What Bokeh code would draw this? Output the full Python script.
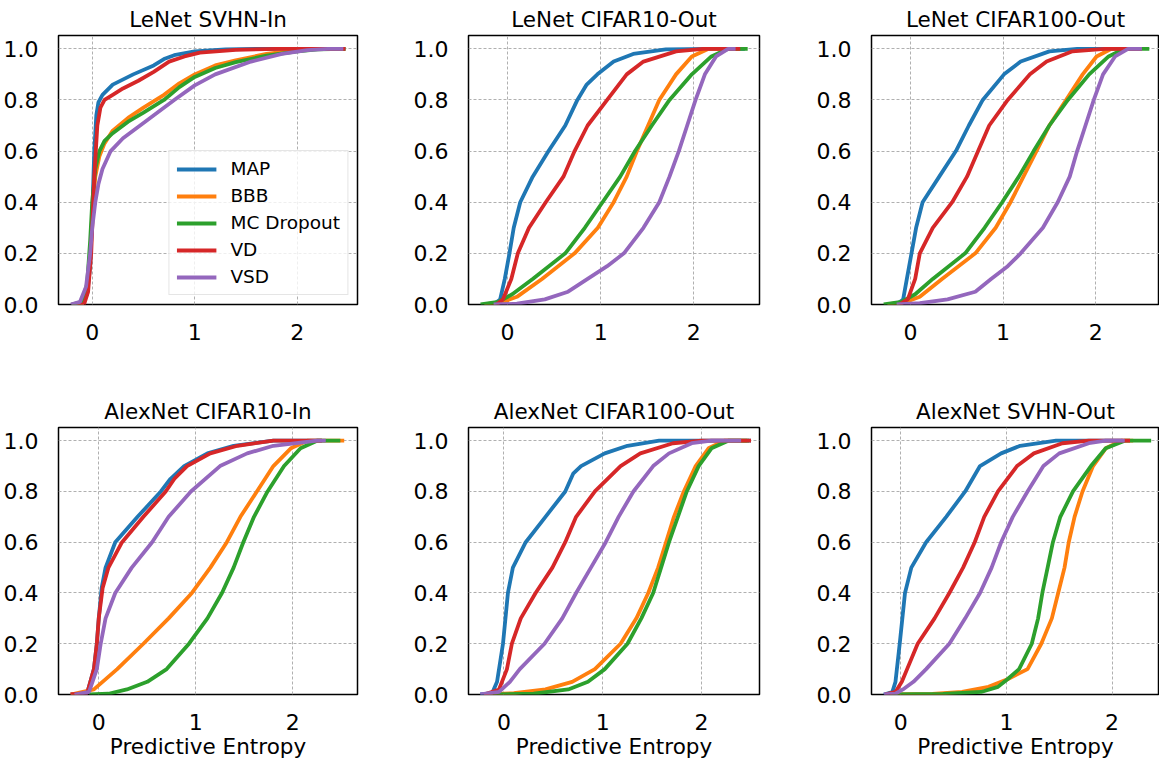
from bokeh.plotting import figure
from bokeh.layouts import column, row
from bokeh.models import Range1d, FixedTicker, PrintfTickFormatter
from bokeh.embed import file_html
from bokeh.resources import INLINE

series_names = ["MAP", "BBB", "MC Dropout", "VD", "VSD"]
series_colors = ["#1f77b4", "#ff7f0e", "#2ca02c", "#d62728", "#9467bd"]
y_ticks = [0.0, 0.2, 0.4, 0.6, 0.8, 1.0]
x_ticks = [0, 1, 2]
x_label = "Predictive Entropy"
titles = ["LeNet SVHN-In", "LeNet CIFAR10-Out", "LeNet CIFAR100-Out",
          "AlexNet CIFAR10-In", "AlexNet CIFAR100-Out", "AlexNet SVHN-Out"]

# ---- Panel 1: LeNet SVHN-In ----
p1_map_x = [-0.2, -0.1, -0.05, -0.02, 0.0, 0.02, 0.04, 0.06, 0.1, 0.2, 0.4, 0.6, 0.7, 0.8, 1.0, 1.3, 1.6, 2.47]
p1_map_y = [0.0, 0.0, 0.04, 0.15, 0.35, 0.6, 0.74, 0.79, 0.82, 0.86, 0.9, 0.935, 0.96, 0.975, 0.99, 0.998, 1.0, 1.0]
p1_bbb_x = [-0.2, -0.1, -0.05, -0.02, 0.0, 0.03, 0.07, 0.12, 0.2, 0.35, 0.5, 0.7, 0.85, 1.0, 1.2, 1.4, 1.7, 2.0, 2.2, 2.47]
p1_bbb_y = [0.0, 0.0, 0.05, 0.2, 0.35, 0.5, 0.58, 0.63, 0.68, 0.73, 0.77, 0.82, 0.865, 0.9, 0.935, 0.955, 0.98, 0.995, 1.0, 1.0]
p1_mcd_x = [-0.2, -0.1, -0.05, -0.02, 0.0, 0.03, 0.07, 0.12, 0.2, 0.35, 0.5, 0.7, 0.85, 1.0, 1.2, 1.4, 1.7, 2.0, 2.2, 2.47]
p1_mcd_y = [0.0, 0.01, 0.08, 0.25, 0.4, 0.53, 0.6, 0.64, 0.67, 0.715, 0.75, 0.8, 0.85, 0.89, 0.925, 0.948, 0.973, 0.99, 0.998, 1.0]
p1_vd_x = [-0.15, -0.08, -0.04, -0.01, 0.02, 0.05, 0.08, 0.12, 0.2, 0.3, 0.45, 0.6, 0.75, 0.9, 1.05, 1.4, 1.8, 2.2, 2.47]
p1_vd_y = [0.0, 0.0, 0.05, 0.2, 0.5, 0.7, 0.77, 0.8, 0.82, 0.845, 0.875, 0.91, 0.95, 0.97, 0.985, 0.996, 1.0, 1.0, 1.0]
p1_vsd_x = [-0.21, -0.12, -0.06, -0.02, 0.0, 0.03, 0.06, 0.1, 0.18, 0.3, 0.5, 0.8, 1.0, 1.2, 1.55, 1.85, 2.1, 2.3, 2.45]
p1_vsd_y = [0.0, 0.01, 0.07, 0.2, 0.3, 0.4, 0.47, 0.53, 0.6, 0.65, 0.71, 0.8, 0.857, 0.9, 0.95, 0.98, 0.995, 1.0, 1.0]

# ---- Panel 2: LeNet CIFAR10-Out ----
p2_map_x = [-0.15, -0.08, -0.03, 0.02, 0.066, 0.136, 0.27, 0.44, 0.62, 0.75, 0.85, 0.965, 1.14, 1.35, 1.7, 2.2, 2.55]
p2_map_y = [0.0, 0.02, 0.1, 0.2, 0.3, 0.4, 0.5, 0.6, 0.7, 0.8, 0.86, 0.9, 0.95, 0.98, 0.998, 1.0, 1.0]
p2_bbb_x = [-0.25, -0.05, 0.1, 0.37, 0.72, 0.97, 1.14, 1.28, 1.39, 1.51, 1.63, 1.81, 1.98, 2.16, 2.5]
p2_bbb_y = [0.0, 0.01, 0.03, 0.1, 0.2, 0.3, 0.4, 0.5, 0.6, 0.7, 0.8, 0.9, 0.97, 1.0, 1.0]
p2_mcd_x = [-0.29, -0.1, 0.05, 0.27, 0.62, 0.83, 1.02, 1.21, 1.37, 1.55, 1.74, 1.98, 2.19, 2.37, 2.58]
p2_mcd_y = [0.0, 0.01, 0.04, 0.1, 0.2, 0.3, 0.4, 0.5, 0.6, 0.7, 0.8, 0.9, 0.97, 1.0, 1.0]
p2_vd_x = [-0.12, -0.05, 0.04, 0.11, 0.23, 0.41, 0.6, 0.72, 0.86, 1.07, 1.28, 1.46, 1.81, 2.1, 2.5]
p2_vd_y = [0.0, 0.02, 0.1, 0.2, 0.3, 0.4, 0.5, 0.6, 0.7, 0.8, 0.9, 0.95, 0.99, 1.0, 1.0]
p2_vsd_x = [-0.15, 0.1, 0.4, 0.65, 0.86, 1.07, 1.25, 1.46, 1.63, 1.74, 1.84, 1.93, 2.02, 2.12, 2.24, 2.37, 2.45]
p2_vsd_y = [0.0, 0.003, 0.02, 0.05, 0.1, 0.15, 0.2, 0.3, 0.4, 0.5, 0.6, 0.7, 0.8, 0.9, 0.97, 1.0, 1.0]

# ---- Panel 3: LeNet CIFAR100-Out ----
p3_map_x = [-0.15, -0.08, -0.04, 0.01, 0.06, 0.13, 0.31, 0.49, 0.63, 0.78, 1.01, 1.19, 1.5, 1.8, 2.5]
p3_map_y = [0.0, 0.02, 0.1, 0.2, 0.3, 0.4, 0.5, 0.6, 0.7, 0.8, 0.9, 0.95, 0.99, 1.0, 1.0]
p3_bbb_x = [-0.25, -0.05, 0.1, 0.34, 0.7, 0.92, 1.08, 1.22, 1.36, 1.5, 1.68, 1.86, 2.01, 2.17, 2.5]
p3_bbb_y = [0.0, 0.01, 0.03, 0.1, 0.2, 0.3, 0.4, 0.5, 0.6, 0.7, 0.8, 0.9, 0.97, 1.0, 1.0]
p3_mcd_x = [-0.29, -0.1, 0.05, 0.24, 0.59, 0.8, 0.99, 1.17, 1.33, 1.5, 1.7, 1.93, 2.14, 2.31, 2.58]
p3_mcd_y = [0.0, 0.01, 0.04, 0.1, 0.2, 0.3, 0.4, 0.5, 0.6, 0.7, 0.8, 0.9, 0.97, 1.0, 1.0]
p3_vd_x = [-0.12, -0.03, 0.05, 0.1, 0.24, 0.45, 0.61, 0.73, 0.85, 1.05, 1.29, 1.47, 1.75, 2.1, 2.5]
p3_vd_y = [0.0, 0.02, 0.1, 0.2, 0.3, 0.4, 0.5, 0.6, 0.7, 0.8, 0.9, 0.95, 0.99, 1.0, 1.0]
p3_vsd_x = [-0.15, 0.1, 0.4, 0.7, 0.87, 1.05, 1.19, 1.43, 1.59, 1.72, 1.8, 1.89, 1.98, 2.08, 2.21, 2.35, 2.5]
p3_vsd_y = [0.0, 0.005, 0.02, 0.05, 0.1, 0.15, 0.2, 0.3, 0.4, 0.5, 0.6, 0.7, 0.8, 0.9, 0.97, 1.0, 1.0]

# ---- Panel 4: AlexNet CIFAR10-In ----
p4_map_x = [-0.29, -0.12, -0.05, -0.02, 0.0, 0.03, 0.07, 0.17, 0.4, 0.64, 0.74, 0.88, 1.12, 1.39, 1.8, 2.3]
p4_map_y = [0.0, 0.005, 0.1, 0.2, 0.3, 0.42, 0.5, 0.6, 0.7, 0.8, 0.85, 0.9, 0.95, 0.98, 1.0, 1.0]
p4_bbb_x = [-0.29, -0.05, 0.19, 0.46, 0.72, 0.96, 1.15, 1.32, 1.46, 1.63, 1.8, 1.98, 2.15, 2.53]
p4_bbb_y = [0.0, 0.02, 0.1, 0.2, 0.3, 0.4, 0.5, 0.6, 0.7, 0.8, 0.9, 0.97, 1.0, 1.0]
p4_mcd_x = [-0.1, 0.1, 0.29, 0.5, 0.7, 0.93, 1.12, 1.27, 1.39, 1.49, 1.6, 1.74, 1.91, 2.08, 2.25, 2.49]
p4_mcd_y = [0.0, 0.003, 0.02, 0.05, 0.1, 0.2, 0.3, 0.4, 0.5, 0.6, 0.7, 0.8, 0.9, 0.97, 1.0, 1.0]
p4_vd_x = [-0.29, -0.12, -0.05, -0.02, 0.0, 0.04, 0.1, 0.24, 0.46, 0.69, 0.78, 0.91, 1.15, 1.43, 1.8, 2.3]
p4_vd_y = [0.0, 0.005, 0.1, 0.2, 0.3, 0.42, 0.5, 0.6, 0.7, 0.8, 0.85, 0.9, 0.95, 0.98, 1.0, 1.0]
p4_vsd_x = [-0.25, -0.1, -0.02, 0.02, 0.07, 0.17, 0.34, 0.55, 0.72, 0.95, 1.25, 1.53, 1.8, 2.25, 2.34]
p4_vsd_y = [0.0, 0.01, 0.1, 0.2, 0.3, 0.4, 0.5, 0.6, 0.7, 0.8, 0.9, 0.95, 0.98, 1.0, 1.0]

# ---- Panel 5: AlexNet CIFAR100-Out ----
p5_map_x = [-0.24, -0.12, -0.07, -0.01, 0.04, 0.09, 0.22, 0.42, 0.62, 0.7, 0.78, 1.02, 1.25, 1.57, 2.5]
p5_map_y = [0.0, 0.005, 0.05, 0.2, 0.4, 0.5, 0.6, 0.7, 0.8, 0.87, 0.9, 0.95, 0.98, 1.0, 1.0]
p5_bbb_x = [-0.2, 0.1, 0.42, 0.69, 0.92, 1.18, 1.34, 1.46, 1.56, 1.64, 1.72, 1.82, 1.94, 2.07, 2.23, 2.46]
p5_bbb_y = [0.0, 0.005, 0.02, 0.05, 0.1, 0.2, 0.3, 0.4, 0.5, 0.6, 0.7, 0.8, 0.9, 0.97, 1.0, 1.0]
p5_mcd_x = [-0.1, 0.3, 0.65, 0.85, 1.02, 1.25, 1.39, 1.51, 1.59, 1.67, 1.76, 1.85, 1.97, 2.1, 2.27, 2.48]
p5_mcd_y = [0.0, 0.003, 0.02, 0.05, 0.1, 0.2, 0.3, 0.4, 0.5, 0.6, 0.7, 0.8, 0.9, 0.97, 1.0, 1.0]
p5_vd_x = [-0.2, -0.05, 0.03, 0.08, 0.17, 0.32, 0.49, 0.62, 0.73, 0.92, 1.18, 1.38, 1.71, 2.0, 2.5]
p5_vd_y = [0.0, 0.02, 0.1, 0.2, 0.3, 0.4, 0.5, 0.6, 0.7, 0.8, 0.9, 0.95, 0.99, 1.0, 1.0]
p5_vsd_x = [-0.24, -0.05, 0.06, 0.16, 0.41, 0.59, 0.73, 0.88, 1.03, 1.16, 1.31, 1.51, 1.67, 1.9, 2.1, 2.4]
p5_vsd_y = [0.0, 0.01, 0.05, 0.1, 0.2, 0.3, 0.4, 0.5, 0.6, 0.7, 0.8, 0.9, 0.95, 0.99, 1.0, 1.0]

# ---- Panel 6: AlexNet SVHN-Out ----
p6_map_x = [-0.16, -0.08, -0.05, -0.01, 0.04, 0.1, 0.24, 0.43, 0.61, 0.75, 0.95, 1.13, 1.47, 2.1]
p6_map_y = [0.0, 0.01, 0.05, 0.2, 0.4, 0.5, 0.6, 0.7, 0.8, 0.9, 0.95, 0.98, 1.0, 1.0]
p6_bbb_x = [-0.1, 0.3, 0.58, 0.83, 1.01, 1.2, 1.33, 1.43, 1.49, 1.55, 1.59, 1.645, 1.72, 1.82, 1.94, 2.09, 2.2]
p6_bbb_y = [0.0, 0.002, 0.01, 0.03, 0.06, 0.1, 0.2, 0.3, 0.4, 0.5, 0.6, 0.7, 0.8, 0.9, 0.97, 1.0, 1.0]
p6_mcd_x = [-0.1, 0.4, 0.76, 0.92, 1.01, 1.12, 1.24, 1.3, 1.34, 1.39, 1.44, 1.51, 1.63, 1.8, 1.94, 2.12, 2.37]
p6_mcd_y = [0.0, 0.002, 0.01, 0.03, 0.06, 0.1, 0.2, 0.3, 0.4, 0.5, 0.6, 0.7, 0.8, 0.9, 0.97, 1.0, 1.0]
p6_vd_x = [-0.15, -0.05, 0.01, 0.06, 0.16, 0.32, 0.46, 0.59, 0.7, 0.79, 0.92, 1.1, 1.26, 1.53, 1.78, 2.17]
p6_vd_y = [0.0, 0.01, 0.05, 0.1, 0.2, 0.3, 0.4, 0.5, 0.6, 0.7, 0.8, 0.9, 0.95, 0.99, 1.0, 1.0]
p6_vsd_x = [-0.16, -0.05, 0.02, 0.12, 0.24, 0.46, 0.61, 0.75, 0.86, 0.95, 1.06, 1.2, 1.35, 1.5, 1.78, 1.94, 2.12]
p6_vsd_y = [0.0, 0.003, 0.02, 0.05, 0.1, 0.2, 0.3, 0.4, 0.5, 0.6, 0.7, 0.8, 0.9, 0.95, 0.99, 1.0, 1.0]

# x-axis limits of each panel
x_limits = [(-0.329, 2.588), (-0.42, 2.707), (-0.422, 2.69),
            (-0.415, 2.667), (-0.359, 2.586), (-0.277, 2.449)]

panel_data = [
    [(p1_map_x, p1_map_y), (p1_bbb_x, p1_bbb_y), (p1_mcd_x, p1_mcd_y), (p1_vd_x, p1_vd_y), (p1_vsd_x, p1_vsd_y)],
    [(p2_map_x, p2_map_y), (p2_bbb_x, p2_bbb_y), (p2_mcd_x, p2_mcd_y), (p2_vd_x, p2_vd_y), (p2_vsd_x, p2_vsd_y)],
    [(p3_map_x, p3_map_y), (p3_bbb_x, p3_bbb_y), (p3_mcd_x, p3_mcd_y), (p3_vd_x, p3_vd_y), (p3_vsd_x, p3_vsd_y)],
    [(p4_map_x, p4_map_y), (p4_bbb_x, p4_bbb_y), (p4_mcd_x, p4_mcd_y), (p4_vd_x, p4_vd_y), (p4_vsd_x, p4_vsd_y)],
    [(p5_map_x, p5_map_y), (p5_bbb_x, p5_bbb_y), (p5_mcd_x, p5_mcd_y), (p5_vd_x, p5_vd_y), (p5_vsd_x, p5_vsd_y)],
    [(p6_map_x, p6_map_y), (p6_bbb_x, p6_bbb_y), (p6_mcd_x, p6_mcd_y), (p6_vd_x, p6_vd_y), (p6_vsd_x, p6_vsd_y)],
]

FONT = "DejaVu Sans"
Y_TOP = 1.052
col_widths = [410, 403, 346]
col_left = [58, 51, 51]
col_right = [53, 54, 0]
row_heights = [390, 371]
row_top = [35, 37]
row_bottom = [86, 66]


def make_panel(i):
    r, c = divmod(i, 3)
    p = figure(width=col_widths[c], height=row_heights[r], output_backend="svg",
               toolbar_location=None, title=titles[i],
               x_range=Range1d(*x_limits[i]), y_range=Range1d(0.0, Y_TOP),
               min_border_left=col_left[c], min_border_right=col_right[c],
               min_border_top=row_top[r], min_border_bottom=row_bottom[r])
    p.background_fill_color = "white"
    p.border_fill_color = "white"
    p.title.align = "center"
    p.title.text_font = FONT
    p.title.text_font_size = "21.5px"
    p.title.text_font_style = "normal"
    p.title.text_color = "black"
    p.title.standoff = 7

    p.outline_line_color = "black"
    p.outline_line_width = 1.5

    for ax in (p.xaxis[0], p.yaxis[0]):
        ax.axis_line_color = None
        ax.major_tick_line_color = None
        ax.minor_tick_line_color = None
        ax.major_label_text_font = FONT
        ax.major_label_text_font_size = "22px"
        ax.major_label_text_color = "black"
    p.xaxis.ticker = FixedTicker(ticks=x_ticks)
    p.yaxis.ticker = FixedTicker(ticks=y_ticks)
    p.yaxis.formatter = PrintfTickFormatter(format="%.1f")
    p.xaxis.formatter = PrintfTickFormatter(format="%d")
    p.xaxis.major_label_standoff = 13
    p.yaxis.major_label_standoff = 14
    if r == 1:
        p.xaxis.axis_label = x_label
        p.xaxis.axis_label_text_font = FONT
        p.xaxis.axis_label_text_font_size = "21.5px"
        p.xaxis.axis_label_text_font_style = "normal"
        p.xaxis.axis_label_text_color = "black"
        p.xaxis.axis_label_standoff = 1

    for g in (p.xgrid[0], p.ygrid[0]):
        g.grid_line_color = "#b0b0b0"
        g.grid_line_width = 1
        g.grid_line_dash = "3 2"

    for (xs, ys), name, color in zip(panel_data[i], series_names, series_colors):
        if i == 0:
            p.line(xs, ys, line_color=color, line_width=3.8, legend_label=name)
        else:
            p.line(xs, ys, line_color=color, line_width=3.8)

    if i == 0:
        lg = p.legend[0]
        lg.location = "bottom_right"
        lg.margin = 9
        lg.padding = 7
        lg.spacing = 6
        lg.glyph_width = 40
        lg.glyph_height = 20
        lg.label_height = 20
        lg.label_standoff = 14
        lg.label_text_font = FONT
        lg.label_text_font_size = "18.5px"
        lg.label_text_color = "black"
        lg.border_line_color = "#cccccc"
        lg.border_line_width = 1
        lg.background_fill_color = "white"
        lg.background_fill_alpha = 0.8
    return p


panels = [make_panel(i) for i in range(6)]
layout = column(row(*panels[:3]), row(*panels[3:]))

open("out.html", "w").write(file_html(layout, INLINE))
